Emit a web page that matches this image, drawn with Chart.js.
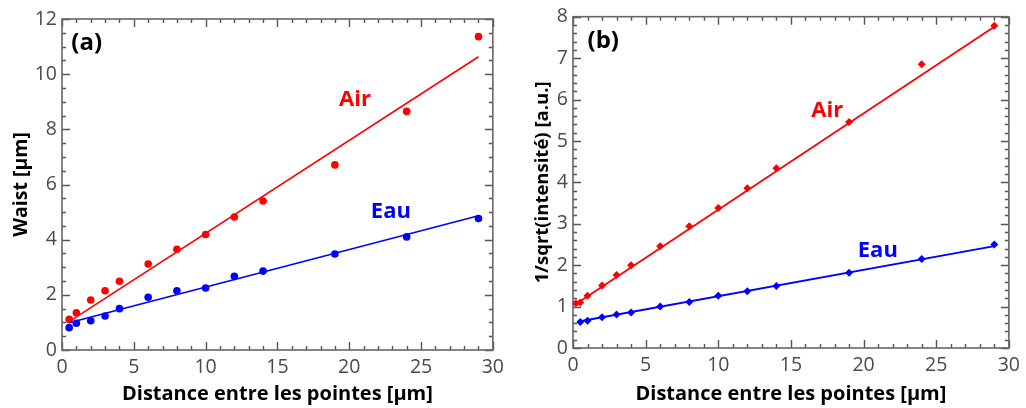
<!DOCTYPE html>
<html>
<head>
<meta charset="utf-8">
<script src="https://cdn.jsdelivr.net/npm/chart.js@4.4.0/dist/chart.umd.min.js"></script>
<style>
    html, body { margin: 0; padding: 0; background: #fff; }
    #wrap { position: relative; width: 1026px; height: 408px; }
    .panel { position: absolute; top: 0; height: 408px; }
    #pa { left: 0; width: 510px; }
    #pb { left: 510px; width: 516px; }
</style>
</head>
<body>
<div id="wrap">
    <div class="panel" id="pa"><canvas id="chartA" width="510" height="408"></canvas></div>
    <div class="panel" id="pb"><canvas id="chartB" width="516" height="408"></canvas></div>
</div>
<script>
// ---- (a) waist vs distance ----
const distA = [0.5, 1, 2, 3, 4, 6, 8, 10, 12, 14, 19, 24, 29];
const waistAir = [1.11, 1.35, 1.81, 2.15, 2.49, 3.12, 3.65, 4.19, 4.82, 5.40, 6.71, 8.65, 11.36];
const waistEau = [0.81, 0.97, 1.06, 1.23, 1.50, 1.91, 2.15, 2.25, 2.67, 2.86, 3.48, 4.10, 4.77];
// fitted lines (end points)
const fitAX = [0.5, 29];
const fitAAir = [1.03, 10.63];
const fitAEau = [0.99, 4.87];

// ---- (b) 1/sqrt(intensity) vs distance ----
const distBAir = [0.2, 0.5, 1, 2, 3, 4, 6, 8, 10, 12, 14, 19, 24, 29];
const invAir = [1.08, 1.10, 1.26, 1.51, 1.76, 2.00, 2.46, 2.94, 3.38, 3.86, 4.34, 5.46, 6.85, 7.78];
const distBEau = [0.5, 1, 2, 3, 4, 6, 8, 10, 12, 14, 19, 24, 29];
const invEau = [0.63, 0.66, 0.74, 0.81, 0.86, 1.00, 1.11, 1.26, 1.37, 1.50, 1.82, 2.15, 2.50];
const fitBAirX = [0.1, 29];
const fitBAir = [1.04, 7.76];
const fitBEauX = [0.4, 29];
const fitBEau = [0.64, 2.46];

const RED = '#ff0000';
const BLUE = '#0000ff';
const FONT = "'Open Sans', 'DejaVu Sans', sans-serif";

function pts(xs, ys) {
    return xs.map(function(x, i) { return { x: x, y: ys[i] }; });
}

// frame with inward major/minor ticks on all four sides
const frameTicks = {
    id: 'frameTicks',
    beforeDatasetsDraw(chart, args, o) {
        const ctx = chart.ctx, a = chart.chartArea;
        const x = chart.scales.x, y = chart.scales.y;
        ctx.save();
        ctx.strokeStyle = '#555';
        ctx.lineWidth = 1.4;
        ctx.beginPath();
        let n = Math.round((x.max - x.min) / o.xMinor);
        for (let i = 0; i <= n; i++) {
            const v = x.min + i * o.xMinor;
            const px = Math.round(x.getPixelForValue(v)) + 0.5;
            const len = (i % o.xEvery === 0) ? 8 : 4;
            ctx.moveTo(px, a.bottom); ctx.lineTo(px, a.bottom - len);
            ctx.moveTo(px, a.top); ctx.lineTo(px, a.top + len);
        }
        n = Math.round((y.max - y.min) / o.yMinor);
        for (let i = 0; i <= n; i++) {
            const v = y.min + i * o.yMinor;
            const py = Math.round(y.getPixelForValue(v)) + 0.5;
            const len = (i % o.yEvery === 0) ? 8 : 4;
            ctx.moveTo(a.left, py); ctx.lineTo(a.left + len, py);
            ctx.moveTo(a.right, py); ctx.lineTo(a.right - len, py);
        }
        ctx.stroke();
        ctx.strokeStyle = '#666';
        ctx.lineWidth = 1.6;
        ctx.strokeRect(a.left, a.top, a.right - a.left, a.bottom - a.top);
        ctx.restore();
    }
};

// text labels placed in data coordinates
const textLabels = {
    id: 'textLabels',
    afterDatasetsDraw(chart, args, o) {
        const ctx = chart.ctx;
        const x = chart.scales.x, y = chart.scales.y;
        ctx.save();
        ctx.textBaseline = 'middle';
        o.items.forEach(function(t) {
            ctx.font = 'bold ' + t.size + 'px ' + FONT;
            ctx.fillStyle = t.color;
            ctx.textAlign = t.align || 'center';
            ctx.fillText(t.text, x.getPixelForValue(t.x), y.getPixelForValue(t.y));
        });
        ctx.restore();
    }
};

function makeChart(id, cfg) {
    return new Chart(document.getElementById(id), {
        type: 'scatter',
        data: { datasets: cfg.datasets },
        options: {
            responsive: false,
            animation: false,
            layout: { padding: { top: cfg.top, right: cfg.right, left: 0, bottom: 0 } },
            plugins: {
                legend: { display: false },
                tooltip: { enabled: false },
                frameTicks: cfg.ticks,
                textLabels: { items: cfg.labels }
            },
            scales: {
                x: {
                    type: 'linear', min: 0, max: 30,
                    grid: { display: false, drawTicks: false },
                    border: { display: false },
                    ticks: { stepSize: 5, padding: 6, color: '#4a4a4a', font: { family: FONT, size: 19.5 } },
                    title: { display: true, text: 'Distance entre les pointes [µm]', color: '#000',
                             font: { family: FONT, size: 20, weight: 'bold' }, padding: { top: 0, bottom: 2 } },
                    afterFit: function(s) { s.height = cfg.xh; }
                },
                y: {
                    type: 'linear', min: 0, max: cfg.ymax,
                    grid: { display: false, drawTicks: false },
                    border: { display: false },
                    ticks: { stepSize: cfg.ystep, padding: 5, color: '#4a4a4a', font: { family: FONT, size: 19.5 } },
                    title: { display: true, text: cfg.ytitle, color: '#000',
                             font: { family: FONT, size: cfg.yts, weight: 'bold' }, padding: { top: cfg.ytp, bottom: 0 } },
                    afterFit: function(s) { s.width = cfg.yw; }
                }
            }
        },
        plugins: [frameTicks, textLabels]
    });
}

makeChart('chartA', {
    top: 19, right: 15, xh: 58, yw: 62, ymax: 12, ystep: 2, ytp: 10, yts: 19.5,
    ytitle: 'Waist [µm]',
    ticks: { xMinor: 1, xEvery: 5, yMinor: 0.5, yEvery: 4 },
    labels: [
        { text: '(a)', x: 0.65, y: 11.13, size: 24, color: '#000', align: 'left' },
        { text: 'Air', x: 20.4, y: 9.06, size: 22, color: RED },
        { text: 'Eau', x: 22.9, y: 5.0, size: 22, color: BLUE }
    ],
    datasets: [
        { data: pts(fitAX, fitAAir), showLine: true, borderColor: RED, borderWidth: 1.6, pointRadius: 0 },
        { data: pts(fitAX, fitAEau), showLine: true, borderColor: BLUE, borderWidth: 1.6, pointRadius: 0 },
        { data: pts(distA, waistAir), backgroundColor: RED, borderWidth: 0, pointRadius: 3.8, pointStyle: 'circle' },
        { data: pts(distA, waistEau), backgroundColor: BLUE, borderWidth: 0, pointRadius: 3.8, pointStyle: 'circle' }
    ]
});

makeChart('chartB', {
    top: 15, right: 11, xh: 60, yw: 63, ymax: 8, ystep: 1, ytp: 22, yts: 18.5,
    ytitle: '1/sqrt(intensité) [a.u.]',
    ticks: { xMinor: 1, xEvery: 5, yMinor: 0.2, yEvery: 5 },
    labels: [
        { text: '(b)', x: 1.0, y: 7.4, size: 24, color: '#000', align: 'left' },
        { text: 'Air', x: 17.5, y: 5.72, size: 22, color: RED },
        { text: 'Eau', x: 20.98, y: 2.36, size: 22, color: BLUE }
    ],
    datasets: [
        { data: pts(fitBAirX, fitBAir), showLine: true, borderColor: RED, borderWidth: 1.8, pointRadius: 0 },
        { data: pts(fitBEauX, fitBEau), showLine: true, borderColor: BLUE, borderWidth: 1.8, pointRadius: 0 },
        { data: pts(distBAir, invAir), backgroundColor: RED, borderColor: RED, borderWidth: 0, pointRadius: 4, pointStyle: 'rectRot' },
        { data: pts(distBEau, invEau), backgroundColor: BLUE, borderColor: BLUE, borderWidth: 0, pointRadius: 4, pointStyle: 'rectRot' }
    ]
});
</script>
</body>
</html>
